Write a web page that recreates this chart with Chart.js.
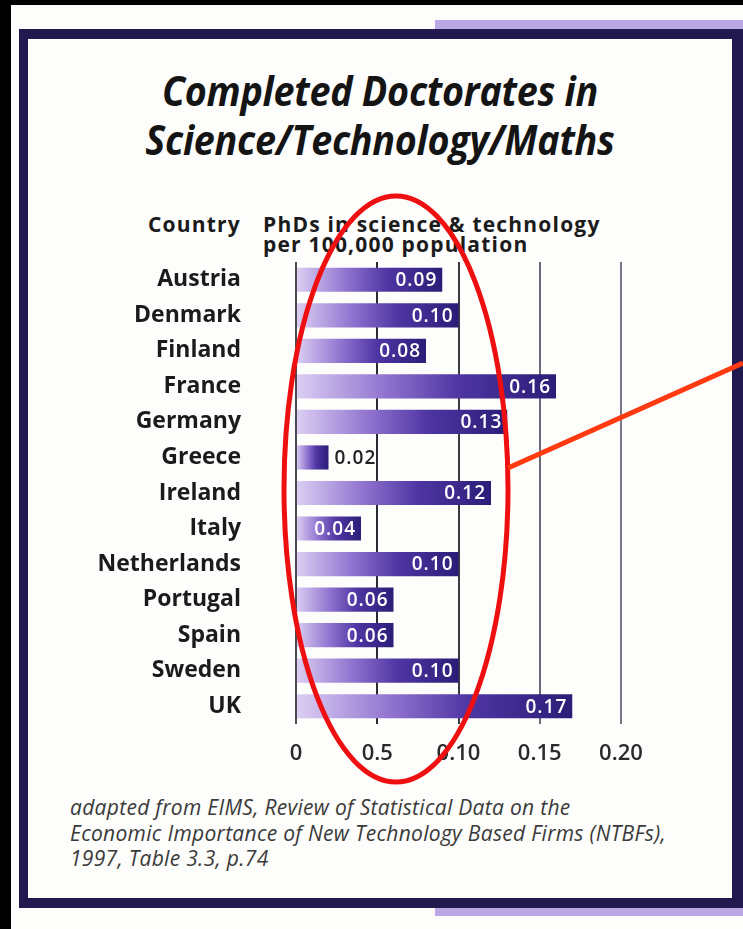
<!DOCTYPE html>
<html>
<head>
<meta charset="utf-8">
<script src="https://cdn.jsdelivr.net/npm/chart.js@4.4.0/dist/chart.umd.min.js"></script>
<style>
  html, body { margin: 0; padding: 0; }
  body { width: 743px; height: 929px; background: #000; position: relative; overflow: hidden; font-family: 'Open Sans', sans-serif; }
  #paper { position: absolute; left: 11px; top: 5px; right: 0; bottom: 0; background: #fdfdfb; }
  .strip { position: absolute; left: 435px; width: 308px; background: #b9a8e4; }
  #frame { position: absolute; left: 19px; top: 29px; width: 724px; height: 879px; box-sizing: border-box;
           border: solid #221a4e; border-width: 10px 11px 10px 9px; }
  #title { position: absolute; left: 28px; width: 704px; top: 66px; text-align: center; color: #141414;
           font: italic bold 41px/49px 'Open Sans', sans-serif; transform: scaleX(0.92); letter-spacing: -0.3px; }
  .head { position: absolute; top: 214px; color: #1b1b1b; font: bold 21px/20px 'Open Sans', sans-serif; letter-spacing: 1.2px; }
  #foot { position: absolute; left: 70px; top: 795px; color: #3a3a3a; font: italic 21px/25.5px 'Open Sans', sans-serif; letter-spacing: 0.3px; }
  #chart { position: absolute; left: 0; top: 0; }
  #marks { position: absolute; left: 0; top: 0; }
</style>
</head>
<body>
<div id="paper"></div>
<div class="strip" style="top:20px;height:9px"></div>
<div class="strip" style="top:908px;height:8px"></div>
<div id="frame"></div>
<div id="title">Completed Doctorates in<br>Science/Technology/Maths</div>
<div class="head" style="right:502px;text-align:right">Country</div>
<div class="head" style="left:263px">PhDs in science &amp; technology<br>per 100,000 population</div>
<div id="foot">adapted from EIMS, Review of Statistical Data on the<br>Economic Importance of New Technology Based Firms (NTBFs),<br>1997, Table 3.3, p.74</div>
<canvas id="chart" width="743" height="929"></canvas>
<svg id="marks" width="743" height="929">
  <ellipse cx="396" cy="489" rx="112" ry="293" fill="none" stroke="#ee1010" stroke-width="5"/>
  <line x1="508" y1="468" x2="743" y2="363" stroke="#ff3a10" stroke-width="5"/>
</svg>
<script>
const countries = ['Austria', 'Denmark', 'Finland', 'France', 'Germany', 'Greece', 'Ireland',
                   'Italy', 'Netherlands', 'Portugal', 'Spain', 'Sweden', 'UK'];
const phds = [0.09, 0.10, 0.08, 0.16, 0.13, 0.02, 0.12, 0.04, 0.10, 0.06, 0.06, 0.10, 0.17];
const tickLabels = ['0', '0.5', '0.10', '0.15', '0.20'];
const gridColors = ['#4a4a55', '#2a2a33', '#3a3a45', '#6a6a78', '#777785'];

// white value label at the end of each bar (outside if the bar is too short)
const valueLabels = {
    id: 'valueLabels',
    afterDatasetsDraw(chart) {
        const ctx = chart.ctx;
        const meta = chart.getDatasetMeta(0);
        ctx.save();
        ctx.font = '600 19px "Open Sans"';
        ctx.letterSpacing = '1px';
        ctx.textBaseline = 'middle';
        meta.data.forEach((bar, i) => {
            const txt = phds[i].toFixed(2);
            const w = ctx.measureText(txt).width;
            if (bar.x - bar.base > w + 12) {
                ctx.fillStyle = '#ffffff';
                ctx.textAlign = 'right';
                ctx.fillText(txt, bar.x - 5, bar.y + 1);
            } else {
                ctx.fillStyle = '#222222';
                ctx.textAlign = 'left';
                ctx.fillText(txt, bar.x + 6, bar.y + 1);
            }
        });
        ctx.restore();
    }
};

new Chart(document.getElementById('chart').getContext('2d'), {
    type: 'bar',
    data: {
        labels: countries,
        datasets: [{
            data: phds,
            borderWidth: 0,
            barPercentage: 0.68,
            categoryPercentage: 1,
            backgroundColor: function(c) {
                const chart = c.chart;
                if (c.type !== 'data' || !chart.chartArea) return '#3b2990';
                const x = chart.scales.x;
                const x0 = x.getPixelForValue(0);
                const x1 = x.getPixelForValue(c.raw);
                const g = chart.ctx.createLinearGradient(x0, 0, x1, 0);
                g.addColorStop(0, '#dccff3');
                g.addColorStop(0.35, '#8f72cf');
                g.addColorStop(0.62, '#4f36a3');
                g.addColorStop(1, '#2c1d78');
                return g;
            }
        }]
    },
    options: {
        indexAxis: 'y',
        responsive: false,
        animation: false,
        devicePixelRatio: 1,
        layout: { padding: { top: 262, left: 0, right: 122, bottom: 165 } },
        plugins: {
            legend: { display: false },
            tooltip: { enabled: false }
        },
        scales: {
            x: {
                min: 0,
                max: 0.2,
                z: 1,
                afterFit: function(s) { s.height = 40; },
                ticks: {
                    stepSize: 0.05,
                    padding: 17,
                    color: '#2a2a2a',
                    font: { family: 'Open Sans', size: 22, weight: '600' },
                    callback: (v, i) => tickLabels[i]
                },
                grid: {
                    color: c => gridColors[c.index] || '#555',
                    lineWidth: 2,
                    drawTicks: false
                },
                border: { display: false }
            },
            y: {
                afterFit: function(s) { s.width = 296; },
                ticks: {
                    padding: 47,
                    color: '#1b1b1b',
                    font: { family: 'Open Sans', size: 23, weight: 'bold' }
                },
                grid: { display: false },
                border: { display: false }
            }
        }
    },
    plugins: [valueLabels]
});
</script>
</body>
</html>
